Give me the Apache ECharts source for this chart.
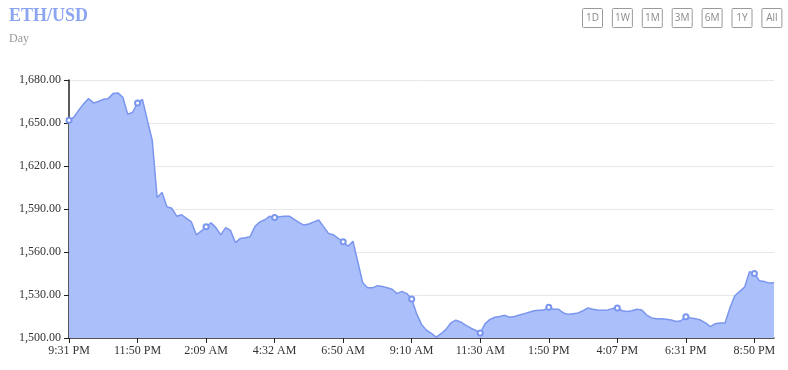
<!DOCTYPE html>
<html>
<head>
<meta charset="utf-8">
<script src="https://cdn.jsdelivr.net/npm/echarts@6/dist/echarts.min.js"></script>
<style>html,body{margin:0;padding:0;background:#fff}#c{width:788px;height:370px}</style>
</head>
<body>
<div id="c"></div>
<script>
const titleText = 'ETH/USD';
const subText = 'Day';
const rangeButtons = ['1D', '1W', '1M', '3M', '6M', '1Y', 'All'];
const tickLabels = ['9:31 PM', '11:50 PM', '2:09 AM', '4:32 AM', '6:50 AM', '9:10 AM', '11:30 AM', '1:50 PM', '4:07 PM', '6:31 PM', '8:50 PM'];
const tickStep = 14;
const prices = [
  1652, 1654, 1659, 1663.5, 1667, 1664, 1665, 1666.5, 1667, 1670.5,
  1671, 1668, 1656, 1657.5, 1664, 1666.5, 1652, 1638, 1598, 1601.5,
  1591.6, 1590.5, 1585, 1586, 1583.5, 1581, 1572, 1574.5, 1577.7, 1580.3,
  1577, 1572, 1577, 1575, 1566.5, 1569.5, 1570, 1570.7, 1578, 1581,
  1582.5, 1585, 1584, 1584.6, 1585, 1585, 1582.8, 1580.5, 1578.8, 1579.5,
  1581, 1582.3, 1577.7, 1573, 1572, 1569.5, 1567.2, 1564, 1567.5, 1553,
  1538.5, 1535, 1535, 1536.5, 1536, 1535, 1534, 1531, 1532.5, 1531,
  1527.2, 1517, 1509.5, 1505.5, 1503.3, 1500.6, 1503, 1506, 1510.5, 1512.5,
  1511.2, 1509, 1507, 1505.5, 1503.5, 1510, 1513, 1514.5, 1515, 1515.8,
  1514.5, 1515, 1516, 1517, 1518, 1519, 1519.3, 1519.5, 1521.5, 1520,
  1520, 1517.5, 1516.5, 1517, 1517.5, 1519, 1521, 1520, 1519.5, 1519.3,
  1519.5, 1520.5, 1521, 1519, 1518.5, 1519, 1520, 1519.5, 1516, 1514,
  1513.5, 1513.5, 1513, 1512.5, 1511.5, 1512, 1514.9, 1514, 1513.5, 1512.5,
  1510.5, 1508, 1510, 1510.5, 1510.5, 1521, 1529.5, 1532.5, 1535.5, 1546.3,
  1545, 1540, 1539.5, 1538.3, 1538.6
];
const yMin = 1500, yMax = 1680, yStep = 30;

const categories = prices.map((_, i) => (i % tickStep === 0 && tickLabels[i / tickStep] !== undefined) ? tickLabels[i / tickStep] : '');

const chart = echarts.init(document.getElementById('c'), null, {renderer: 'canvas'});

const buttons = rangeButtons.map((t, i) => ({
  type: 'group',
  left: 582 + i * 29.9,
  top: 8,
  children: [
    {type: 'rect', shape: {x: 0, y: 0, width: 20, height: 19, r: 1}, style: {fill: '#fff', stroke: '#9a9a9a', lineWidth: 1}},
    {type: 'text', style: {x: 10, y: 10, text: t, align: 'center', verticalAlign: 'middle', fontFamily: 'Open Sans', fontSize: 10, fill: '#8a8a8a'}}
  ]
}));

chart.setOption({
  animation: false,
  title: {
    text: titleText,
    subtext: subText,
    left: 4,
    top: 2,
    itemGap: 8,
    textStyle: {fontFamily: 'Liberation Serif', fontSize: 18, fontWeight: 'bold', color: '#8ca5f1'},
    subtextStyle: {fontFamily: 'Liberation Serif', fontSize: 12, color: '#9a9a9a'}
  },
  graphic: buttons,
  grid: {left: 69, right: 14, top: 80, bottom: 32, containLabel: false},
  xAxis: {
    type: 'category',
    data: categories,
    boundaryGap: false,
    axisLine: {lineStyle: {color: '#222', width: 1.5}},
    axisTick: {interval: tickStep - 1, length: 5, lineStyle: {color: '#222'}},
    axisLabel: {interval: tickStep - 1, color: '#333', fontFamily: 'Liberation Serif', fontSize: 12, margin: 7},
    splitLine: {show: false}
  },
  yAxis: {
    type: 'value',
    min: yMin,
    max: yMax,
    interval: yStep,
    axisLine: {show: true, lineStyle: {color: '#222', width: 1.5}},
    axisTick: {show: true, length: 5, lineStyle: {color: '#222'}},
    axisLabel: {
      color: '#333', fontFamily: 'Liberation Serif', fontSize: 12, margin: 8,
      formatter: v => v.toLocaleString('en-US', {minimumFractionDigits: 2, maximumFractionDigits: 2})
    },
    splitLine: {lineStyle: {color: '#e8e8e8'}}
  },
  series: [{
    type: 'line',
    data: prices,
    symbol: 'emptyCircle',
    symbolSize: 5,
    showAllSymbol: 'auto',
    lineStyle: {color: '#7a96ee', width: 1.5},
    itemStyle: {color: '#7a96ee', borderColor: '#7a96ee', borderWidth: 1},
    areaStyle: {color: '#abbffa', opacity: 1}
  }]
});
</script>
</body>
</html>
